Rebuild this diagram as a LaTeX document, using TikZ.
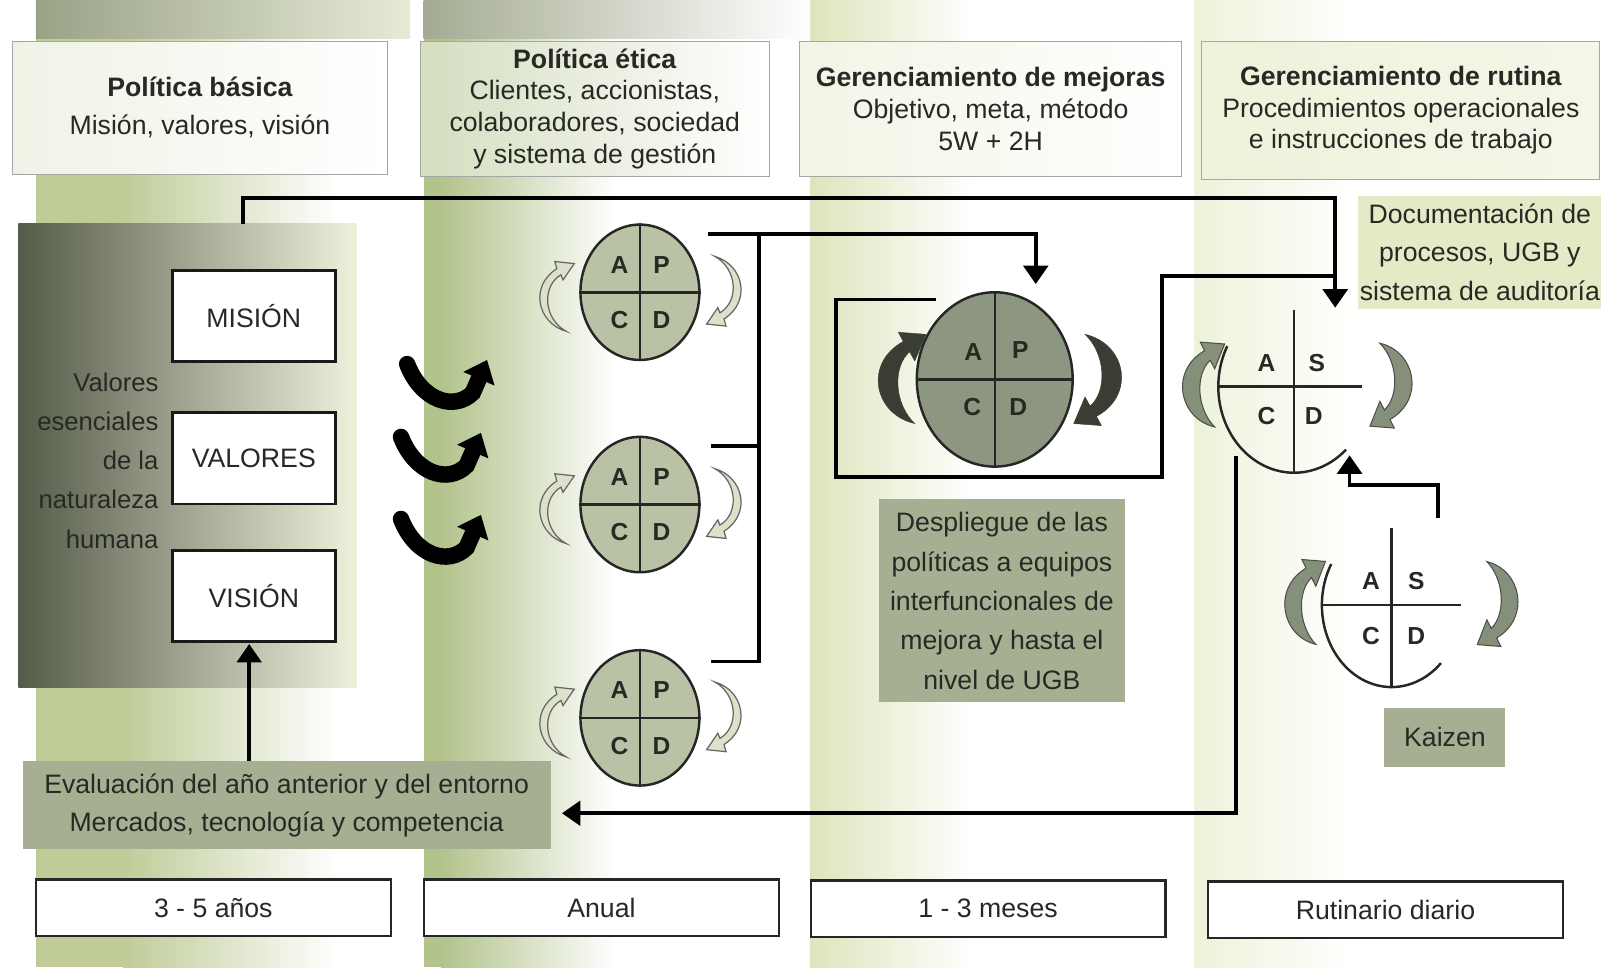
\documentclass[tikz,border=0pt]{standalone}
\usepackage{fontspec}
\setmainfont{Liberation Sans}
\usetikzlibrary{arrows.meta,shapes.geometric}

\definecolor{colA}{HTML}{BFCC98}
\definecolor{colB}{HTML}{B2C38C}
\definecolor{colC}{HTML}{DCE5BC}
\definecolor{colD}{HTML}{EDF2DA}
\definecolor{topA}{HTML}{9AA286}
\definecolor{coreDark}{HTML}{555B49}
\definecolor{coreLight}{HTML}{EDF2DC}
\definecolor{panel}{HTML}{A7AF92}
\definecolor{docbg}{HTML}{E3EAC6}
\definecolor{wheelS}{HTML}{BAC2A5}
\definecolor{wheelB}{HTML}{8D9680}
\definecolor{arrDark}{HTML}{393D33}
\definecolor{arrMid}{HTML}{85907A}
\definecolor{arrLight}{HTML}{DCE2CA}
\definecolor{ink}{HTML}{262924}

\tikzset{
  % thin curved cycle arrow, head at the top pointing right
  thincyc/.pic={
    \path[pic actions] (34,74) .. controls (6,66) and (-2,30) .. (25,13)
      -- (23,6) -- (42,8) -- (31,24) -- (29,19)
      .. controls (10,30) and (12,62) .. (34,74) -- cycle;
  },
  % heavy curved cycle arrow
  thickcyc/.pic={
    \path[pic actions] (46,95) .. controls (6,86) and (-4,36) .. (34.8,15)
      -- (30,6) -- (57,8) -- (46,34) -- (41,25)
      .. controls (24,40) and (26,76) .. (46,95) -- cycle;
  },
  % black crescent arrow between the first two columns
  crescent/.pic={
    \draw[pic actions, line width=16pt, line cap=round, -{Triangle[width=32pt,length=20pt]}]
      (4,12) .. controls (18,48) and (50,58) .. (68,40) -- (82,8);
  },
}

\begin{document}
\begin{tikzpicture}[x=1pt,y=-1pt,
  every node/.style={font=\fontsize{26}{31}\selectfont, text=ink},
  conn/.style={draw=black, line width=3.6pt},
  tipend/.style={-{Triangle[width=24pt,length=18pt]}},
  hdr/.style={draw=black!35, line width=1pt, align=center, inner sep=0pt},
  tbox/.style={draw=black!85, line width=2.2pt, fill=white, minimum width=346pt, minimum height=55pt, inner sep=0pt},
  wbox/.style={draw=black!90, line width=2.6pt, fill=white, minimum width=159pt, minimum height=89pt, inner sep=0pt},
  panelbox/.style={fill=panel, align=center, inner sep=0pt},
  wsmall/.style={ellipse, draw=black!85, line width=2.4pt, fill=wheelS, minimum width=116pt, minimum height=132pt, inner sep=0pt},
  quad/.style={draw=black!85, line width=2.4pt},
  lab/.style={font=\fontsize{24}{24}\selectfont\bfseries},
  smallarr/.style={fill=arrLight, draw=black!60, line width=1.2pt},
  midarr/.style={fill=arrMid, draw=black!70, line width=1pt},
]

\useasboundingbox (0,0) rectangle (1568,943);
\fill[white] (0,0) rectangle (1568,943);

% column bands
\fill[colA] (35,0) rectangle (120,943);
\shade[left color=colA, right color=white] (120,0) rectangle (330,943);
\fill[colB] (413,0) rectangle (430,943);
\shade[left color=colB, right color=white] (430,0) rectangle (600,943);
\shade[left color=colC, right color=white] (790,0) rectangle (950,943);
\shade[left color=colD, right color=white] (1165,0) rectangle (1320,943);
\shade[left color=topA, right color=colA!40] (35,0) rectangle (400,38);
\shade[left color=topA!90, right color=white] (413,0) rectangle (790,38);

% dark panel of essential values
\node[minimum width=330pt, minimum height=452pt, inner sep=0pt,
      left color=coreDark, right color=coreLight] (core) at (183,444) {};

% headers
\node[hdr, minimum width=366pt, minimum height=130pt, left color=colA!25, right color=white] (h1) at (195,105)
  {\textbf{Política básica}\\[6pt]Misión, valores, visión};
\node[hdr, minimum width=340pt, minimum height=132pt, left color=colB!55, right color=white] (h2) at (580,106)
  {\textbf{Política ética}\\Clientes, accionistas,\\colaboradores, sociedad\\y sistema de gestión};
\node[hdr, minimum width=373pt, minimum height=132pt, left color=colC!40, right color=white] (h3) at (966,106)
  {\textbf{Gerenciamiento de mejoras}\\Objetivo, meta, método\\5W + 2H};
\node[hdr, minimum width=388pt, minimum height=135pt, left color=colD, right color=colD!60] (h4) at (1366,107.5)
  {\textbf{Gerenciamiento de rutina}\\Procedimientos operacionales\\e instrucciones de trabajo};

% time scale
\node[tbox] (t1) at (208,885) {3 - 5 años};
\node[tbox] (t2) at (586.5,885) {Anual};
\node[tbox] (t3) at (963.5,886) {1 - 3 meses};
\node[tbox] (t4) at (1351,887) {Rutinario diario};

% essential values
\node[align=right, anchor=east, font=\fontsize{25}{38.3}\selectfont] (esen) at (158,449)
  {Valores\\esenciales\\de la\\naturaleza\\humana};
\node[wbox] (mision) at (247.5,308) {MISIÓN};
\node[wbox] (valores) at (247.5,447) {VALORES};
\node[wbox] (vision) at (247.5,581) {VISIÓN};

% crescent arrows
\pic[draw=black] at (393,343) {crescent};
\pic[draw=black] at (387,414) {crescent};
\pic[draw=black] at (387,494) {crescent};

% connectors
\coordinate (coreTop) at (237,218);
\coordinate (ascdIn) at (1302,300);
\draw[conn, tipend] (coreTop) |- (1302,193) -- (ascdIn);

\coordinate (waOut) at (690,228);
\coordinate (bigIn) at (1010,277);
\draw[conn, tipend] (waOut) -- (1010,228) -- (bigIn);
\coordinate (wbOut) at (693,435);
\coordinate (wcOut) at (693,645);
\draw[conn] (740,228) -- (740,645) -- (wcOut);
\draw[conn] (wbOut) -- (740,435);

\coordinate (bigLoop) at (913,292);
\draw[conn] (bigLoop) -- (815,292) -- (815,465) -- (1133,465) -- (1133,269) -- (1302,269);

\coordinate (ascdOut) at (1205,445);
\coordinate (evalIn) at (548,793);
\draw[conn, tipend] (ascdOut) -- (1205,793) -- (evalIn);

\coordinate (kzOut) at (1402,505);
\coordinate (ascdUp) at (1316,444);
\draw[conn, tipend] (kzOut) -- (1402,473) -- (1316,473) -- (ascdUp);

\coordinate (evalUp) at (243,742);
\coordinate (visionIn) at (243,628);
\draw[conn, tipend] (evalUp) -- (visionIn);

% annual PDCA wheels
\foreach \n/\y in {wa/285, wb/492, wc/700} {
  \node[wsmall] (\n) at (624,\y) {};
  \draw[quad] (\n.west) -- (\n.east) (\n.north) -- (\n.south);
  \path (\n.center) +(-20,-27) node[lab]{A} +(21,-27) node[lab]{P}
                    +(-20,27) node[lab]{C} +(21,27) node[lab]{D};
  \pic[smallarr] at (518,\y-36) {thincyc};
  \pic[smallarr, rotate=180] at (731,\y+39) {thincyc};
}

% improvement PDCA wheel
\node[ellipse, draw=black!85, line width=2.4pt, fill=wheelB, minimum width=152pt,
      minimum height=170pt, inner sep=0pt] (wbig) at (970,370) {};
\draw[quad] (wbig.west) -- (wbig.east) (wbig.north) -- (wbig.south);
\path (wbig.center) +(-21,-27) node[lab]{A} +(25,-29) node[lab]{P}
                    +(-22,27) node[lab]{C} +(23,27) node[lab]{D};
\pic[fill=arrDark, draw=arrDark] at (846,318) {thickcyc};
\pic[fill=arrDark, draw=arrDark, rotate=180] at (1104,421) {thickcyc};

% routine SDCA wheel
\node[ellipse, minimum width=148pt, minimum height=168pt, inner sep=0pt] (ascd) at (1262,377) {};
\draw[quad] (ascd.center) ++(-152:74 and 84) arc[start angle=-152, end angle=-313, x radius=74, y radius=84];
\draw[quad] (ascd.center) ++(-74,0) -- ++(140,0);
\draw[quad] (ascd.center) ++(0,-75) -- ++(0,159);
\path (ascd.center) +(-27,-23) node[lab]{A} +(22,-23) node[lab]{S}
                    +(-27,29) node[lab]{C} +(19,29) node[lab]{D};
\pic[midarr, xscale=0.88, yscale=0.93] at (1144,328) {thickcyc};
\pic[midarr, xscale=0.88, yscale=0.93, rotate=180] at (1386,423) {thickcyc};

% kaizen SDCA wheel
\node[ellipse, minimum width=136pt, minimum height=160pt, inner sep=0pt] (kzw) at (1357,590) {};
\draw[quad] (kzw.center) ++(-150:68 and 80) arc[start angle=-150, end angle=-315, x radius=68, y radius=80];
\draw[quad] (kzw.center) ++(-67,0) -- ++(135,0);
\draw[quad] (kzw.center) ++(0,-75) -- ++(0,155);
\path (kzw.center) +(-20,-23) node[lab]{A} +(24,-23) node[lab]{S}
                   +(-20,30) node[lab]{C} +(24,30) node[lab]{D};
\pic[midarr, xscale=0.85, yscale=0.93] at (1244,540) {thickcyc};
\pic[midarr, xscale=0.85, yscale=0.93, rotate=180] at (1489,636) {thickcyc};

% text panels
\node[panelbox, minimum width=515pt, minimum height=86pt, font=\fontsize{26}{37}\selectfont] (eval) at (279.5,785)
  {Evaluación del año anterior y del entorno\\Mercados, tecnología y competencia};
\node[panelbox, minimum width=240pt, minimum height=198pt, font=\fontsize{26}{38.3}\selectfont] (desp) at (977,586)
  {Despliegue de las\\políticas a equipos\\interfuncionales de\\mejora y hasta el\\nivel de UGB};
\node[panelbox, minimum width=118pt, minimum height=58pt] (kz) at (1409,719) {Kaizen};
\node[fill=docbg, minimum width=237pt, minimum height=110pt, align=center, inner sep=0pt,
      font=\fontsize{26}{37.5}\selectfont] (doc) at (1443,246)
  {Documentación de\\procesos, UGB y\\sistema de auditoría};

\end{tikzpicture}
\end{document}
